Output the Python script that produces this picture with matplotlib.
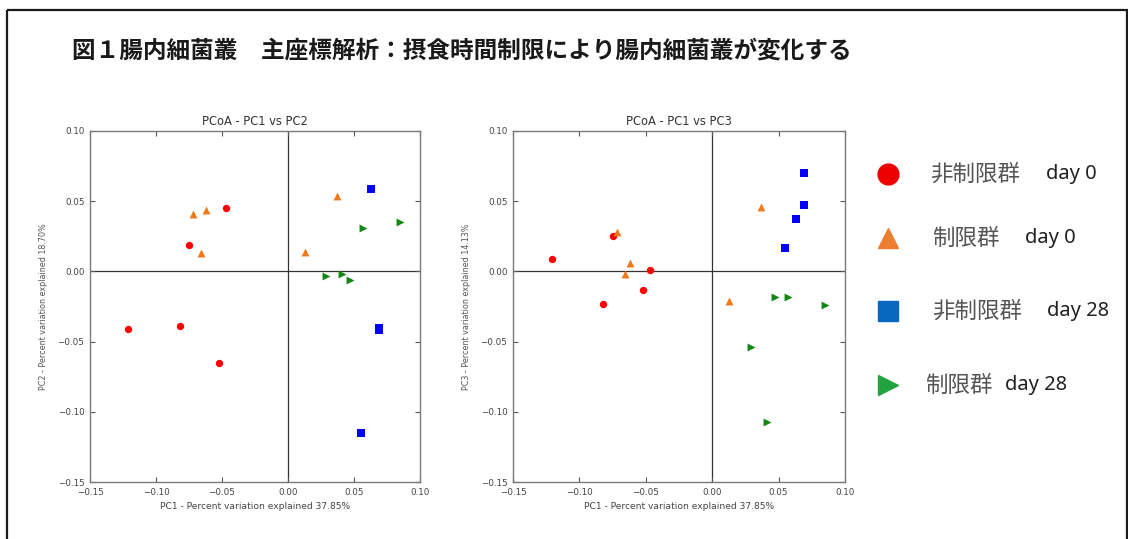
import matplotlib
matplotlib.use("Agg")
import matplotlib.pyplot as plt
from matplotlib.patches import Rectangle

plt.rcParams['font.family'] = ['Noto Sans CJK JP', 'DejaVu Sans']

# ---- data ----
pc1_red = [-0.121, -0.082, -0.052, -0.075, -0.047]
pc2_red = [-0.041, -0.039, -0.065, 0.019, 0.045]
pc3_red = [0.009, -0.023, -0.013, 0.025, 0.001]

pc1_org = [-0.072, -0.062, -0.066, 0.013, 0.037]
pc2_org = [0.041, 0.044, 0.013, 0.014, 0.054]
pc3_org = [0.028, 0.006, -0.002, -0.021, 0.046]

pc1_blu = [0.063, 0.069, 0.069, 0.055]
pc2_blu = [0.059, -0.040, -0.042, -0.115]
pc3_blu = [0.037, 0.070, 0.047, 0.017]

pc1_grn = [0.029, 0.041, 0.047, 0.057, 0.085]
pc2_grn = [-0.003, -0.002, -0.006, 0.031, 0.035]
pc3_grn = [-0.054, -0.107, -0.018, -0.018, -0.024]

groups = ["非制限群", "制限群", "非制限群", "制限群"]
days = ["day 0", "day 0", "day 28", "day 28"]

title = "図１腸内細菌叢　主座標解析：摂食時間制限により腸内細菌叢が変化する"
xlab = "PC1 - Percent variation explained 37.85%"
ylab2 = "PC2 - Percent variation explained 18.70%"
ylab3 = "PC3 - Percent variation explained 14.13%"
ticks = [-0.15, -0.10, -0.05, 0.00, 0.05, 0.10]

W, H = 1128, 539
fig = plt.figure(figsize=(W / 100, H / 100), dpi=100)
fig.patch.set_facecolor("white")


def px(x0, y0, x1, y1):
    return [x0 / W, 1 - y1 / H, (x1 - x0) / W, (y1 - y0) / H]


def pcoa(ax, ys, ylab, ttl):
    yr, yo, yb, yg = ys
    ax.scatter(pc1_red, yr, s=28, c="#ff0000", marker="o", lw=0, zorder=3)
    ax.scatter(pc1_org, yo, s=32, c="#f07818", marker="^", lw=0, zorder=3)
    ax.scatter(pc1_blu, yb, s=32, c="#0000ff", marker="s", lw=0, zorder=3)
    ax.scatter(pc1_grn, yg, s=32, c="#118811", marker=">", lw=0, zorder=3)
    ax.axhline(0, color="#333333", lw=0.9, zorder=1)
    ax.axvline(0, color="#333333", lw=0.9, zorder=1)
    ax.set_xlim(-0.15, 0.10)
    ax.set_ylim(-0.15, 0.10)
    ax.set_xticks(ticks)
    ax.set_yticks(ticks)
    ax.set_xticklabels([f"{t:.2f}".replace("-", "\u2212") for t in ticks],
                       family="DejaVu Sans")
    ax.set_yticklabels([f"{t:.2f}".replace("-", "\u2212") for t in ticks],
                       family="DejaVu Sans")
    ax.tick_params(direction="in", top=True, right=True, length=3.5,
                   width=0.8, color="#555555", labelsize=6.3,
                   labelcolor="#444444", pad=4)
    for s in ax.spines.values():
        s.set_color("#7a7a7a")
        s.set_linewidth(1.0)
    ax.set_xlabel(xlab, fontsize=6.6, color="#444444", family="DejaVu Sans",
                  labelpad=4)
    ax.set_ylabel(ylab, fontsize=5.8, color="#555555", family="DejaVu Sans",
                  labelpad=7)
    ax.set_title(ttl, fontsize=8.3, color="#333333", family="DejaVu Sans",
                 pad=4)


ax1 = fig.add_axes(px(90, 131, 420, 482))
pcoa(ax1, (pc2_red, pc2_org, pc2_blu, pc2_grn), ylab2, "PCoA - PC1 vs PC2")
ax2 = fig.add_axes(px(513, 131, 845, 482))
pcoa(ax2, (pc3_red, pc3_org, pc3_blu, pc3_grn), ylab3, "PCoA - PC1 vs PC3")

# overlay in pixel coordinates for frame, title and legend
lax = fig.add_axes([0, 0, 1, 1], zorder=-1)
lax.set_xlim(0, W)
lax.set_ylim(H, 0)
lax.axis("off")
lax.add_patch(Rectangle((6.5, 9.5), 1120, 560, fill=False, ec="#1a1a1a", lw=1.6))
lax.text(72, 51, title, fontsize=17, fontweight="bold", color="#1a1a1a",
         va="center", ha="left")

leg_markers = [("o", "#ee0000", 15), ("^", "#ed7d31", 15),
               ("s", "#0868c0", 14), (">", "#21a33f", 15)]
leg_y = [174, 238, 311, 385]
grp_x = [930, 932, 932, 925]
day_x = [1046, 1025, 1047, 1005]
for (m, c, ms), y, g, d, gx, dx in zip(leg_markers, leg_y, groups, days, grp_x, day_x):
    lax.plot([888], [y], marker=m, color=c, ms=ms, ls="none")
    lax.text(gx, y, g, fontsize=16.2, color="#555555", va="center", ha="left")
    lax.text(dx, y, d, fontsize=14.5, color="#222222", va="center", ha="left",
             family="Noto Sans")

fig.savefig("out.png", dpi=100, facecolor="white")
